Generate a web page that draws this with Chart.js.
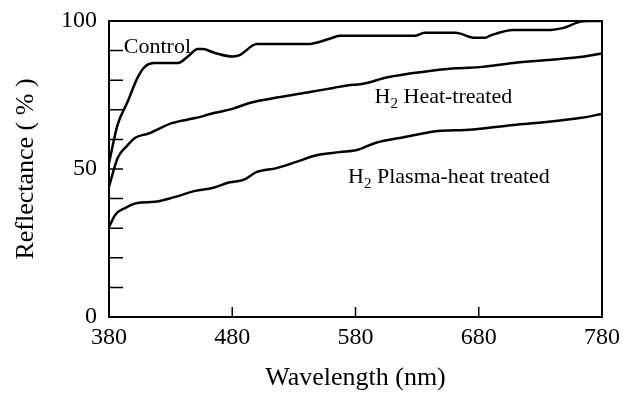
<!DOCTYPE html>
<html>
<head>
<meta charset="utf-8">
<script src="https://cdn.jsdelivr.net/npm/chart.js@4.4.1/dist/chart.umd.min.js"></script>
<style>
  html, body { margin: 0; padding: 0; background: #fff; }
</style>
</head>
<body>
<canvas id="reflectanceChart" width="623" height="395"></canvas>
<script>
// wavelength (nm) / reflectance (%)
const controlWl  = [380, 387, 395, 403, 409, 417, 436, 444, 452, 456, 466, 480, 486, 500, 519, 541, 559, 567, 584, 628, 636, 661, 677, 685, 689, 708, 738, 748, 762, 768, 780];
const controlVal = [52, 65, 72.6, 80.7, 84.5, 85.8, 85.8, 88, 90.5, 90.5, 89.2, 88, 88.5, 92.2, 92.2, 92.2, 94, 95, 95, 95, 96, 96, 94.3, 94.3, 95, 97, 97, 97.6, 99.7, 100, 100];

const heatWl  = [380, 387, 395, 401, 412, 431, 450, 466, 480, 494, 519, 543, 562, 576, 584, 606, 634, 661, 683, 708, 735, 762, 780];
const heatVal = [44, 53.7, 58, 60.5, 62, 65.5, 67.2, 69, 70.3, 72.3, 74.3, 76, 77.4, 78.4, 78.6, 81, 82.8, 84, 84.5, 85.8, 86.8, 87.8, 89];

const plasmaWl  = [380, 385, 393, 403, 417, 433, 450, 464, 478, 489, 500, 516, 532, 549, 567, 582, 596, 620, 647, 669, 683, 708, 735, 762, 780];
const plasmaVal = [30.4, 34.5, 36.8, 38.5, 38.9, 40.5, 42.6, 43.6, 45.5, 46.3, 49, 50.3, 52.4, 54.7, 55.7, 56.5, 58.8, 60.8, 62.8, 63.2, 63.7, 64.9, 65.9, 67.2, 68.6];

const xMajorTicks = [380, 480, 580, 680, 780];
const yMajorTicks = [0, 50, 100];
const xInnerTicks = [480, 580, 680];
const yInnerTicks = [10, 20, 30, 40, 50, 60, 70, 80, 90];

const serif = '"Liberation Serif", "DejaVu Serif", serif';

function toPoints(xs, ys) {
    return xs.map((x, i) => ({ x: x, y: ys[i] }));
}

function curve(label, xs, ys) {
    return {
        label: label,
        data: toPoints(xs, ys),
        borderColor: '#000',
        borderWidth: 2.5,
        pointRadius: 0,
        fill: false,
        cubicInterpolationMode: 'monotone'
    };
}

// text with a subscript part, e.g. H + 2 + " Heat-treated"
function drawSubText(ctx, parts, x, y) {
    let cx = x;
    parts.forEach(p => {
        ctx.font = p.sub ? '15px ' + serif : '22px ' + serif;
        ctx.fillText(p.t, cx, p.sub ? y + 5 : y);
        cx += ctx.measureText(p.t).width;
    });
}

// box, inward ticks and the curve labels
const framePlugin = {
    id: 'frame',
    afterDatasetsDraw(chart) {
        const { ctx, chartArea: a, scales: { x, y } } = chart;
        ctx.save();
        ctx.strokeStyle = '#000';
        ctx.lineWidth = 2;
        ctx.strokeRect(a.left, a.top, a.right - a.left, a.bottom - a.top);

        ctx.beginPath();
        yInnerTicks.forEach(v => {
            const py = y.getPixelForValue(v);
            ctx.moveTo(a.left, py);
            ctx.lineTo(a.left + 14, py);
        });
        xInnerTicks.forEach(v => {
            const px = x.getPixelForValue(v);
            ctx.moveTo(px, a.bottom);
            ctx.lineTo(px, a.bottom - 10);
        });
        ctx.lineWidth = 1.5;
        ctx.stroke();

        ctx.fillStyle = '#000';
        ctx.textBaseline = 'alphabetic';
        ctx.textAlign = 'left';
        drawSubText(ctx, [{ t: 'Control' }], x.getPixelForValue(392), y.getPixelForValue(89.2));
        drawSubText(ctx, [{ t: 'H' }, { t: '2', sub: true }, { t: ' Heat-treated' }],
            x.getPixelForValue(595.5), y.getPixelForValue(72.3));
        drawSubText(ctx, [{ t: 'H' }, { t: '2', sub: true }, { t: ' Plasma-heat treated' }],
            x.getPixelForValue(574), y.getPixelForValue(45.3));
        ctx.restore();
    }
};

const canvas = document.getElementById('reflectanceChart');
new Chart(canvas.getContext('2d'), {
    type: 'line',
    data: {
        datasets: [
            curve('Control', controlWl, controlVal),
            curve('H2 Heat-treated', heatWl, heatVal),
            curve('H2 Plasma-heat treated', plasmaWl, plasmaVal)
        ]
    },
    options: {
        responsive: false,
        animation: false,
        layout: { padding: { top: 21, right: 21, left: 0, bottom: 0 } },
        plugins: {
            legend: { display: false },
            tooltip: { enabled: false }
        },
        scales: {
            x: {
                type: 'linear',
                min: 380,
                max: 780,
                afterFit(scale) {
                    scale.height = 78;
                    scale.paddingLeft = 0;
                    scale.paddingRight = 0;
                },
                afterBuildTicks(scale) { scale.ticks = xMajorTicks.map(v => ({ value: v })); },
                grid: { display: false, drawTicks: false },
                border: { display: false },
                ticks: {
                    color: '#000',
                    padding: 6,
                    maxRotation: 0,
                    autoSkip: false,
                    font: { family: serif, size: 24 }
                },
                title: {
                    display: true,
                    text: 'Wavelength (nm)',
                    color: '#000',
                    padding: { top: 0, bottom: 1 },
                    font: { family: serif, size: 26 }
                }
            },
            y: {
                min: 0,
                max: 100,
                afterFit(scale) {
                    scale.width = 109;
                    scale.paddingTop = 0;
                    scale.paddingBottom = 0;
                },
                afterBuildTicks(scale) { scale.ticks = yMajorTicks.map(v => ({ value: v })); },
                grid: { display: false, drawTicks: false },
                border: { display: false },
                ticks: {
                    color: '#000',
                    padding: 12,
                    autoSkip: false,
                    font: { family: serif, size: 24 }
                },
                title: {
                    display: true,
                    text: 'Reflectance ( % )',
                    color: '#000',
                    padding: { top: 11, bottom: 0 },
                    font: { family: serif, size: 26 }
                }
            }
        }
    },
    plugins: [framePlugin]
});
</script>
</body>
</html>
